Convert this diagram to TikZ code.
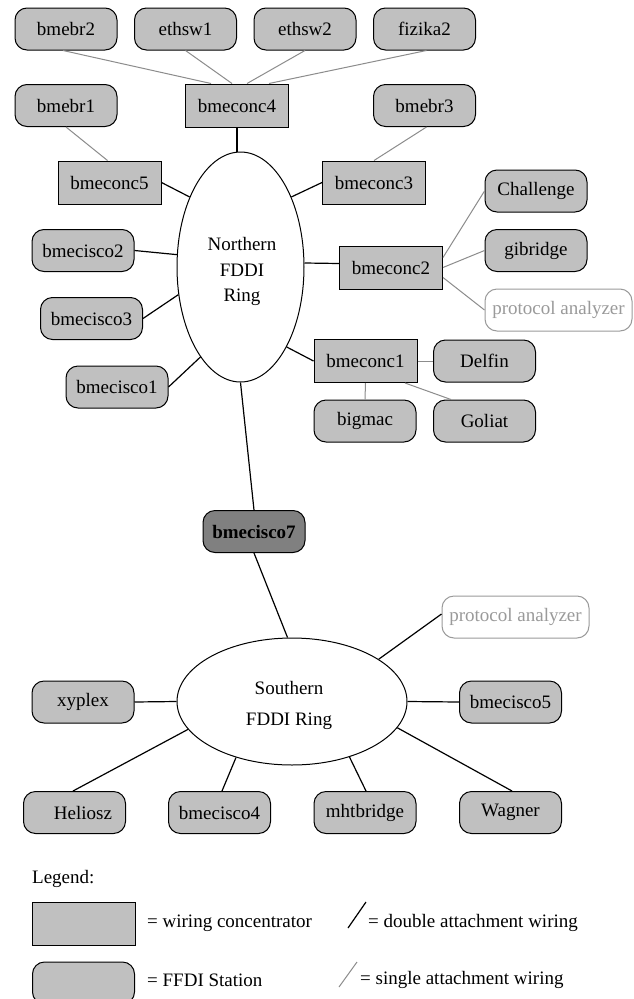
\documentclass[tikz,border=0pt]{standalone}
\usepackage{fontspec}
\setmainfont{Liberation Serif}
\usetikzlibrary{shapes.geometric}
\definecolor{boxfill}{HTML}{C0C0C0}
\definecolor{darkfill}{HTML}{808080}
\definecolor{thinline}{HTML}{8C8C8C}
\definecolor{protogray}{HTML}{9A9A9A}
\tikzset{
  base/.style={draw=black, line width=1pt, inner sep=0pt, font=\fontsize{19}{25.5}\selectfont, text=black},
  station/.style={base, fill=boxfill, rounded corners=12pt, minimum width=102pt, minimum height=42pt},
  keystation/.style={station, fill=darkfill, font=\fontsize{19}{25.5}\selectfont\bfseries},
  conc/.style={base, fill=boxfill, minimum width=103pt, minimum height=43pt},
  proto/.style={base, draw=protogray, text=protogray, fill=white, rounded corners=12pt, minimum width=147pt, minimum height=42pt},
  ring/.style={base, ellipse, fill=white},
  ringtext/.style={inner sep=0pt, align=center, font=\fontsize{19}{25.5}\selectfont},
  txt/.style={inner sep=0pt, font=\fontsize{19}{25.5}\selectfont, anchor=west},
  dbl/.style={draw=black, line width=1.2pt},
  sgl/.style={draw=thinline, line width=1pt}
}
\begin{document}
\begin{tikzpicture}[x=1pt,y=-1pt]
\clip (0,0) rectangle (634,999);
\fill[white] (0,0) rectangle (634,999);
% rings
\node[ring, minimum width=127pt, minimum height=230pt,
      label={[ringtext, xshift=1.5pt, yshift=-4.5pt]center:Northern\\FDDI\\Ring}] (N) at (240.5,267) {};
\node[ring, minimum width=230pt, minimum height=127pt,
      label={[ringtext, xshift=-3pt, yshift=-4pt]center:Southern\\[6pt]FDDI Ring}] (S) at (292,701.5) {};
% top rows
\node[station] (bmebr2) at (66,29) {bmebr2};
\node[station] (ethsw1) at (185.5,29) {ethsw1};
\node[station] (ethsw2) at (305,29) {ethsw2};
\node[station] (fizika2) at (424.5,29) {fizika2};
\node[conc] (bmeconc4) at (237,105.5) {bmeconc4};
\node[station] (bmebr1) at (66,105.5) {bmebr1};
\node[station] (bmebr3) at (424.5,105.5) {bmebr3};
\node[conc] (bmeconc5) at (109.5,182.5) {bmeconc5};
\node[conc] (bmeconc3) at (374,182.5) {bmeconc3};
\node[station] (Challenge) at (536,191) {Challenge};
\node[station] (bmecisco2) at (83,250.5) {bmecisco2};
\node[station] (gibridge) at (536,250.5) {gibridge};
\node[conc] (bmeconc2) at (391,267.5) {bmeconc2};
\node[proto] (proto1) at (558.5,310) {protocol analyzer};
\node[station] (bmecisco3) at (91.5,318.5) {bmecisco3};
\node[station] (bmecisco1) at (117,387) {bmecisco1};
\node[conc] (bmeconc1) at (365.5,361) {bmeconc1};
\node[station] (Delfin) at (484.5,361) {Delfin};
\node[station] (bigmac) at (365,421) {bigmac};
\node[station] (Goliat) at (484.5,421) {Goliat};
\node[keystation] (bmecisco7) at (254,531.5) {bmecisco7};
\node[proto] (proto2) at (515.5,617) {protocol analyzer};
\node[station] (xyplex) at (83,702) {xyplex};
\node[station] (bmecisco5) at (510.5,702) {bmecisco5};
\node[station] (Heliosz) at (74.5,812.5) {\hspace*{17pt}Heliosz};
\node[station] (bmecisco4) at (219.5,812.5) {bmecisco4};
\node[station] (mhtbridge) at (365,812.5) {mhtbridge};
\node[station] (Wagner) at (510.5,812.5) {Wagner};
% single attachment (gray)
\draw[sgl] ([xshift=-3pt]bmebr2.south) -- ([xshift=-26pt]bmeconc4.north);
\draw[sgl] (ethsw1.south) -- ([xshift=-5pt]bmeconc4.north);
\draw[sgl] (ethsw2.south) -- ([xshift=10pt]bmeconc4.north);
\draw[sgl] ([xshift=2pt]fizika2.south) -- ([xshift=32pt]bmeconc4.north);
\draw[sgl] (bmebr1.south) -- ([xshift=-2pt]bmeconc5.north);
\draw[sgl] ([xshift=2pt]bmebr3.south) -- (bmeconc3.north);
\draw[sgl] ([yshift=10pt]bmeconc2.east) -- (Challenge.west);
\draw[sgl] (bmeconc2.east) -- (gibridge.west);
\draw[sgl] ([yshift=-10pt]bmeconc2.east) -- (proto1.west);
\draw[sgl] (bmeconc1.east) -- (Delfin.west);
\draw[sgl] (bmeconc1.south) -- (bigmac.north);
\draw[sgl] ([xshift=39.5pt]bmeconc1.south) -- ([xshift=-33.5pt]Goliat.north);
% double attachment (black)
\draw[dbl] (bmeconc4.south) -- (bmeconc4.south |- N.north);
\draw[dbl] (bmeconc5.east) -- (N.126.2);
\draw[dbl] (bmeconc3.west) -- (N.54.4);
\draw[dbl] (bmecisco2.east) -- (N.169.3);
\draw[dbl] ([yshift=4pt]N.east) -- ([yshift=4pt]bmeconc2.west);
\draw[dbl] (bmecisco3.east) -- (N.204.9);
\draw[dbl] (bmecisco1.east) -- (N.246.5);
\draw[dbl] (bmeconc1.west) -- (N.300.7);
\draw[dbl] (N.south) -- (bmecisco7.north);
\draw[dbl] (bmecisco7.south) -- (S.94);
\draw[dbl] ([yshift=3pt]proto2.west) -- (S.26.6);
\draw[dbl] (xyplex.east) -- (S.west);
\draw[dbl] (S.east) -- (bmecisco5.west);
\draw[dbl] ([xshift=-1.5pt]Heliosz.north) -- (S.195.3);
\draw[dbl] ([xshift=2.5pt]bmecisco4.north) -- (S.225.3);
\draw[dbl] ([xshift=1pt]mhtbridge.north) -- (S.316.8);
\draw[dbl] ([xshift=1.5pt]Wagner.north) -- (S.346.1);
% legend
\node[txt] (legend) at (32,879) {Legend:};
\node[conc] (lconc) at (83.5,923.5) {};
\node[station] (lstation) at (83.5,983) {};
\node[txt] (tconc) at (147,923) {= wiring concentrator};
\coordinate (da) at (348,928);
\coordinate (db) at (366,902);
\draw[dbl] (da) -- (db);
\node[txt] (tdbl) at (368,923) {= double attachment wiring};
\node[txt] (tsta) at (147,980) {= FFDI Station};
\coordinate (sa) at (339,987);
\coordinate (sb) at (357,962);
\draw[sgl] (sa) -- (sb);
\node[txt] (tsgl) at (360,980) {= single attachment wiring};
\end{tikzpicture}
\end{document}
